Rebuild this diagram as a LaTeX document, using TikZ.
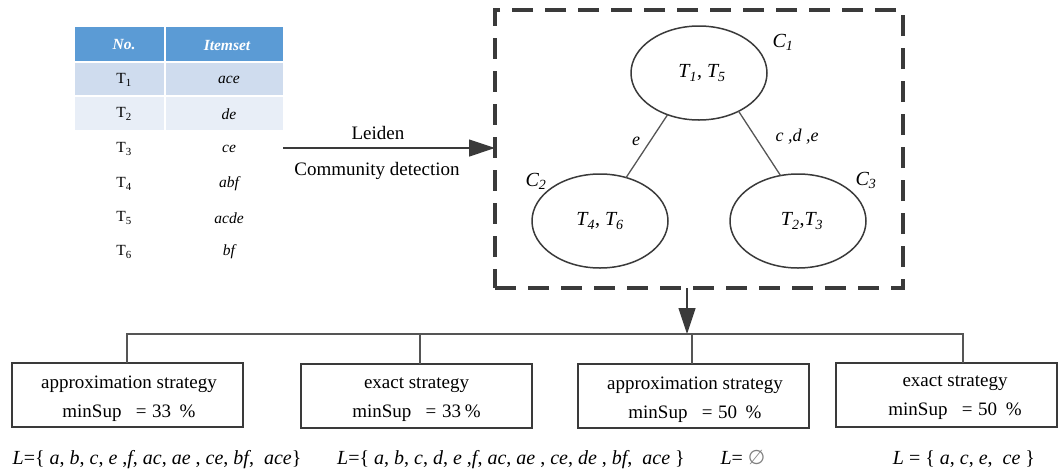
\documentclass[tikz,border=0pt]{standalone}
\usepackage{fontspec}
\setmainfont{Liberation Serif}
\newfontfamily\symbolfont{DejaVu Sans}
\usetikzlibrary{arrows.meta,shapes.geometric}
\definecolor{ink}{HTML}{3A3A3A}
\definecolor{wire}{HTML}{555555}
\definecolor{headblue}{HTML}{5B9BD5}
\definecolor{rowone}{HTML}{CFDCEE}
\definecolor{rowtwo}{HTML}{E8EEF7}
\begin{document}
\begin{tikzpicture}[x=1pt,y=-1pt,
  every node/.style={inner sep=0pt, outer sep=0pt},
  cell/.style={font=\fontsize{15.5}{17}\selectfont},
  hcell/.style={font=\fontsize{15.5}{17}\selectfont\bfseries\itshape, text=white},
  cluster/.style={draw=ink, line width=1.5pt, ellipse, minimum width=136pt, minimum height=94pt,
    font=\fontsize{20}{22}\selectfont\itshape},
  clabel/.style={font=\fontsize{20}{22}\selectfont\itshape},
  elabel/.style={font=\fontsize{18}{20}\selectfont\itshape},
  flow/.style={draw=ink, line width=1.2pt, -{Triangle[length=26pt,width=17pt]}},
  frame/.style={draw=ink, line width=3.6pt, dash pattern=on 21pt off 12pt, minimum width=408pt, minimum height=278pt},
  strategy/.style={draw=ink, line width=1.5pt, minimum height=64pt},
  stext/.style={align=center, font=\fontsize{19}{29}\selectfont},
  bus/.style={draw=wire, line width=1.3pt},
  result/.style={font=\fontsize{20}{22}\selectfont, anchor=base},
  sidetext/.style={font=\fontsize{19}{21}\selectfont}
]
\useasboundingbox (0,0) rectangle (1060,472);

% ---- transaction table ----
\fill[headblue] (75,27) rectangle (283,62);
\fill[rowone] (75,62) rectangle (283,96);
\fill[rowtwo] (75,96) rectangle (283,130);
\draw[white, line width=1.5pt] (165,27) -- (165,130);
\draw[white, line width=1.5pt] (75,62) -- (283,62);
\draw[white, line width=1.5pt] (75,96) -- (283,96);
\node[hcell] (hno) at (124,45) {No.};
\node[hcell] (hitem) at (227,45) {Itemset};
\node[cell] (n1) at (124,80) {T\textsubscript{1}};
\node[cell] (n2) at (124,114) {T\textsubscript{2}};
\node[cell] (n3) at (124,149) {T\textsubscript{3}};
\node[cell] (n4) at (124,184) {T\textsubscript{4}};
\node[cell] (n5) at (124,218) {T\textsubscript{5}};
\node[cell] (n6) at (124,252) {T\textsubscript{6}};
\node[cell] (i1) at (229,80) {\itshape ace};
\node[cell] (i2) at (229,114) {\itshape de};
\node[cell] (i3) at (229,149) {\itshape ce};
\node[cell] (i4) at (229,184) {\itshape abf};
\node[cell] (i5) at (229,218) {\itshape acde};
\node[cell] (i6) at (229,252) {\itshape bf};

% ---- community detection step ----
\node[frame] (box) at (699,149) {};
\coordinate (src) at (283,148);
\draw[flow] (src) -- (src -| box.west);
\node[sidetext] (leiden) at (378,133) {Leiden};
\node[sidetext] (cd) at (377,171) {Community detection};

% ---- communities ----
\node[cluster] (c1) at (699,73) {\hspace{6pt}T\textsubscript{1}\upshape, \itshape T\textsubscript{5}};
\node[cluster] (c2) at (600,221) {T\textsubscript{4}\upshape, \itshape T\textsubscript{6}};
\node[cluster] (c3) at (798,221) {\hspace{8pt}T\textsubscript{2}\upshape,\itshape T\textsubscript{3}};
\node[clabel] (l1) at (783,42) {C\textsubscript{1}};
\node[clabel] (l2) at (536,181) {C\textsubscript{2}};
\node[clabel] (l3) at (866,180) {C\textsubscript{3}};
\draw[wire, line width=1.3pt] (c1.-127) -- (c2.59);
\draw[wire, line width=1.3pt] (c1.-44) -- (c3.111);
\node[elabel] (e12) at (636,141) {e};
\node[elabel] (e13) at (797,137) {c ,d ,e};

% ---- mining strategies ----
\node[strategy, minimum width=231pt] (b1) at (127.5,395) {};
\node[strategy, minimum width=231pt] (b2) at (416.5,396) {};
\node[strategy, minimum width=231pt] (b3) at (693.5,396) {};
\node[strategy, minimum width=221pt] (b4) at (946.5,395) {};
\node[stext] (t1) at (129,399)
  {approximation strategy\\minSup\hspace{0.75em}=\hspace{0.3em}33\hspace{0.45em}\%};
\node[stext] (t2) at (416.5,400)
  {exact strategy\\minSup\hspace{0.75em}=\hspace{0.3em}33\hspace{0.2em}\%};
\node[stext] (t3) at (695,400)
  {approximation strategy\\minSup\hspace{0.75em}=\hspace{0.3em}50\hspace{0.45em}\%};
\node[stext] (t4) at (955,398)
  {exact strategy\\minSup\hspace{0.75em}=\hspace{0.3em}50\hspace{0.45em}\%};

\coordinate (split) at (687,334);
\draw[flow] (split |- box.south) -- (split);
\coordinate (bl) at (127,334);
\coordinate (j2) at (420,334);
\coordinate (j3) at (692,334);
\coordinate (br) at (963,334);
\draw[bus] (bl |- b1.north) -- (bl) -- (br) -- (br |- b4.north);
\draw[bus] (j2) -- (j2 |- b2.north);
\draw[bus] (j3) -- (j3 |- b3.north);

% ---- frequent itemsets found ----
\node[result] (r1) at (157,464)
  {\textit{L}=\{ \textit{a}, \textit{b}, \textit{c}, \textit{e} ,\textit{f}, \textit{ac}, \textit{ae} , \textit{ce}, \textit{bf}, \ \textit{ace}\}};
\node[result] (r2) at (511,464)
  {\textit{L}=\{ \textit{a}, \textit{b}, \textit{c}, \textit{d}, \textit{e} ,\textit{f}, \textit{ac}, \textit{ae} , \textit{ce}, \textit{de} , \textit{bf}, \ \textit{ace} \}};
\node[result] (r3) at (743,464) {\textit{L}= \textcolor{gray}{\symbolfont ∅}};
\node[result] (r4) at (964,464)
  {\textit{L} = \{ \textit{a}, \textit{c}, \textit{e}, \ \textit{ce} \}};
\end{tikzpicture}
\end{document}
